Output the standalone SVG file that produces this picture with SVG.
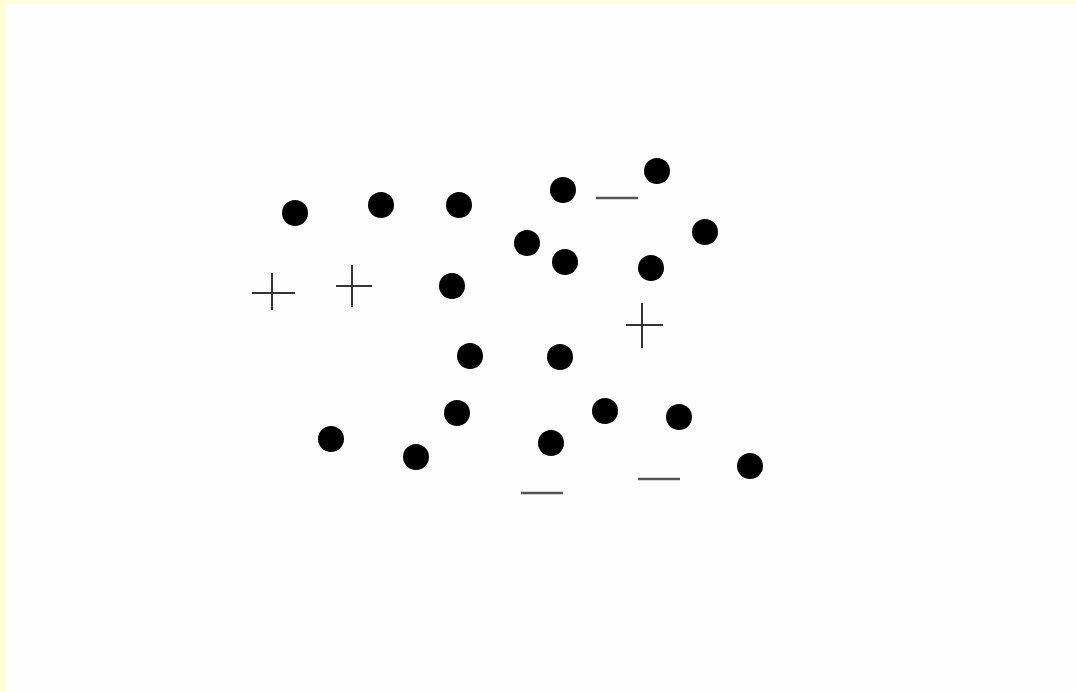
<svg xmlns="http://www.w3.org/2000/svg" width="1076" height="692" viewBox="0 0 1076 692">
<style>
.dot{fill:#000}
.sign{stroke:#333;stroke-width:2;fill:none}
.minus{stroke:#555;stroke-width:2.5;fill:none}
</style>
<rect x="0" y="0" width="1076" height="692" fill="#ffffdc"/>
<rect x="7" y="4" width="1069" height="688" fill="#fefefe"/>
<g id="dots">
<circle class="dot" cx="295" cy="213" r="13"/>
<circle class="dot" cx="381" cy="205" r="13"/>
<circle class="dot" cx="459" cy="205" r="13"/>
<circle class="dot" cx="563" cy="190" r="13"/>
<circle class="dot" cx="657" cy="171" r="13"/>
<circle class="dot" cx="705" cy="232" r="13"/>
<circle class="dot" cx="527" cy="243" r="13"/>
<circle class="dot" cx="565" cy="262" r="13"/>
<circle class="dot" cx="651" cy="268" r="13"/>
<circle class="dot" cx="452" cy="286" r="13"/>
<circle class="dot" cx="470" cy="356" r="13"/>
<circle class="dot" cx="560" cy="357" r="13"/>
<circle class="dot" cx="457" cy="413" r="13"/>
<circle class="dot" cx="331" cy="439" r="13"/>
<circle class="dot" cx="416" cy="457" r="13"/>
<circle class="dot" cx="551" cy="443" r="13"/>
<circle class="dot" cx="605" cy="411" r="13"/>
<circle class="dot" cx="679" cy="417" r="13"/>
<circle class="dot" cx="750" cy="466" r="13"/>
</g>
<g id="plus-signs">
<path class="sign" d="M252 293H295M272 273V310"/>
<path class="sign" d="M336 286H372M352 265V307"/>
<path class="sign" d="M626 325H663M642 303V348"/>
</g>
<g id="minus-signs">
<path class="minus" d="M596 198H638"/>
<path class="minus" d="M521 493H563"/>
<path class="minus" d="M638 479H680"/>
</g>
</svg>
